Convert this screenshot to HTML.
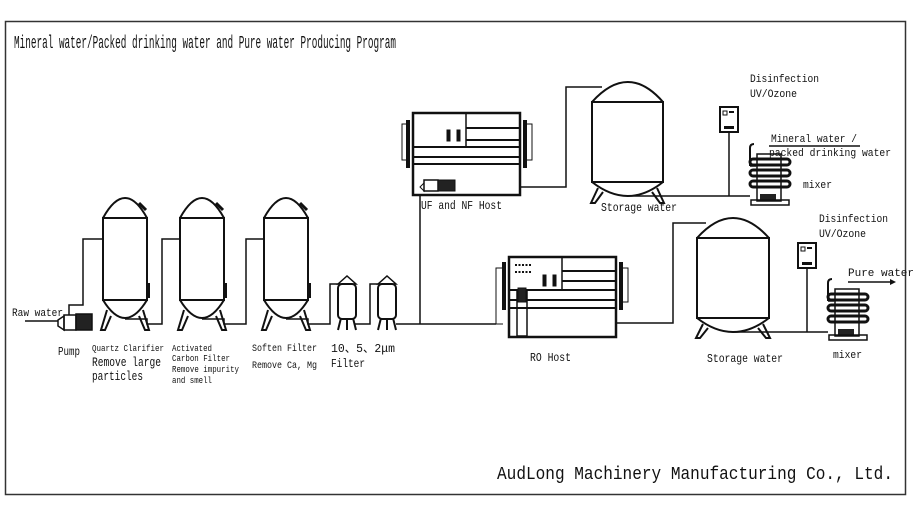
<!DOCTYPE html>
<html><head><meta charset="utf-8"><style>
html,body{margin:0;padding:0;background:#fff;}
svg{display:block;}
text{font-family:"Liberation Mono","Noto Sans CJK SC",monospace;fill:#111;}
</style></head><body>
<svg width="916" height="519" viewBox="0 0 916 519" xmlns="http://www.w3.org/2000/svg">
<defs>
<g id="tank">
 <!-- width 44, origin at cyl-top-left -->
 <path d="M0,0 Q22,-40 44,0" fill="none" stroke="#111" stroke-width="2"/>
 <rect x="0" y="0" width="44" height="82" fill="none" stroke="#111" stroke-width="2"/>
 <path d="M0,82 Q22,118 44,82" fill="none" stroke="#111" stroke-width="2"/>
 <path d="M4,92 L-2,112 L2,112 L8,98" fill="none" stroke="#111" stroke-width="2"/>
 <path d="M40,92 L46,112 L42,112 L36,98" fill="none" stroke="#111" stroke-width="2"/>
 <path d="M36,-15 L43,-8" stroke="#111" stroke-width="3"/>
 <rect x="44" y="65" width="3" height="15" fill="#111"/>
</g>
<g id="small">
 <path d="M0,8 L9,0 L18,8 Z" fill="none" stroke="#111" stroke-width="1.5"/>
 <rect x="0" y="8" width="18" height="35" rx="4" fill="none" stroke="#111" stroke-width="2"/>
 <path d="M3,42 L0,54 M15,42 L18,54 M9,44 L9,54" stroke="#111" stroke-width="2"/>
</g>
<g id="mixer">
 <path d="M2,22 L2,4 Q2,0 6,0" fill="none" stroke="#111" stroke-width="2"/>
 <path d="M2,22 L8,22" stroke="#111" stroke-width="1.5"/>
 <rect x="9" y="10" width="24" height="47" fill="none" stroke="#111" stroke-width="1.5"/>
 <rect x="2" y="15" width="40" height="6" rx="3" fill="none" stroke="#111" stroke-width="3"/>
 <rect x="2" y="26" width="40" height="6" rx="3" fill="none" stroke="#111" stroke-width="3"/>
 <rect x="2" y="37" width="40" height="6" rx="3" fill="none" stroke="#111" stroke-width="3"/>
 <rect x="12" y="50" width="16" height="6" fill="#222"/>
 <rect x="3" y="56" width="38" height="5" fill="none" stroke="#111" stroke-width="1.5"/>
</g>
<g id="disbox">
 <rect x="0" y="0" width="18" height="25" fill="none" stroke="#111" stroke-width="2"/>
 <rect x="3" y="4" width="4" height="4" fill="none" stroke="#111" stroke-width="1"/>
 <rect x="9" y="4" width="5" height="2" fill="#111"/>
 <rect x="4" y="19" width="10" height="3" fill="#111"/>
</g>
</defs>

<rect x="5.5" y="21.5" width="900" height="473" fill="none" stroke="#333" stroke-width="1.5"/>
<text x="14" y="48" font-size="18" textLength="382" lengthAdjust="spacingAndGlyphs">Mineral water/Packed drinking water and Pure water Producing Program</text>
<text x="497" y="479" font-size="18" textLength="396" lengthAdjust="spacingAndGlyphs">AudLong Machinery Manufacturing Co., Ltd.</text>

<!-- left pipes -->
<g fill="none" stroke="#111" stroke-width="1.5">
 <path d="M25,321 L58,321"/>
 <path d="M69,315 L69,305 L83,305 L83,239 L103,239"/>
 <path d="M125,319 L147,319 L147,324 L162,324 L162,239 L180,239"/>
 <path d="M202,319 L224,319 L224,324 L246,324 L246,239 L264,239"/>
 <path d="M286,319 L308,319 L308,324 L330,324 L330,284 L338,284"/>
 <path d="M355,324 L370,324 L370,284 L378,284"/>
 <path d="M396,324 L496,324"/>
 <path d="M420,324 L420,196"/>
 <path d="M520,187 L566,187 L566,87 L602,87"/>
 <path d="M616,323 L673,323 L673,223 L706,223"/>
 <path d="M628,196 L750,196"/>
 <path d="M729,132 L729,196"/>
 <path d="M733,332 L828,332"/>
 <path d="M807,268 L807,332"/>
 <path d="M848,282 L890,282"/>
 <path d="M769,146 L860,146"/>
</g>
<path d="M890,279 L896,282 L890,285 Z" fill="#111"/>

<!-- pump -->
<g stroke="#111" stroke-width="1.5" fill="none">
 <path d="M64,316 L58,320 L58,326 L64,330 Z"/>
 <rect x="64" y="315" width="12" height="15"/>
 <rect x="76" y="314" width="16" height="16" fill="#222"/>
</g>

<use href="#tank" x="103" y="218"/>
<use href="#tank" x="180" y="218"/>
<use href="#tank" x="264" y="218"/>
<use href="#small" x="338" y="276"/>
<use href="#small" x="378" y="276"/>

<!-- UF host -->
<g stroke="#111" fill="none">
 <rect x="413" y="113" width="107" height="82" stroke-width="2.5"/>
 <rect x="413" y="113" width="53" height="34" stroke-width="1.5"/>
 <path d="M466,128 L520,128 M466,140 L520,140 M413,147 L520,147 M413,157 L520,157 M413,164 L520,164" stroke-width="2"/>
 <path d="M407,124 L402,124 L402,160 L407,160 M526,124 L532,124 L532,160 L526,160" stroke-width="1"/>
 <path d="M408,120 L408,168 M525,120 L525,168" stroke-width="4"/>
 <rect x="447" y="130" width="3" height="11" fill="#111"/>
 <rect x="457" y="130" width="3" height="11" fill="#111"/>
 <path d="M424,183 L420,187 L424,191 Z" stroke-width="1"/>
 <rect x="424" y="180" width="14" height="11" stroke-width="1.5"/>
 <rect x="438" y="180" width="17" height="11" fill="#222"/>
</g>
<text x="421" y="209" font-size="12" textLength="81" lengthAdjust="spacingAndGlyphs">UF and NF Host</text>

<!-- RO host -->
<g stroke="#111" fill="none">
 <rect x="509" y="257" width="107" height="80" stroke-width="2.5"/>
 <rect x="509" y="257" width="53" height="33" stroke-width="1.5"/>
 <path d="M562,271 L616,271 M562,281 L616,281 M509,290 L616,290 M509,300 L616,300 M509,308 L616,308" stroke-width="2"/>
 <path d="M503,268 L496,268 L496,324 L503,324 M622,268 L628,268 L628,302 L622,302" stroke-width="1"/>
 <path d="M504,262 L504,310 M621,262 L621,310" stroke-width="4"/>
 <rect x="543" y="275" width="3" height="11" fill="#111"/>
 <rect x="553" y="275" width="3" height="11" fill="#111"/>
 <path d="M515,265 L531,265 M515,272 L531,272" stroke-width="2" stroke-dasharray="2 1.5"/>
 <rect x="517" y="290" width="10" height="46" stroke-width="1.5"/>
 <rect x="518" y="288" width="8" height="14" fill="#222"/>
</g>
<text x="530" y="361" font-size="12" textLength="41" lengthAdjust="spacingAndGlyphs">RO Host</text>

<use href="#tank" x="592" y="102" transform="translate(-592,-102) scale(1.614,1) translate(592,0)" style="display:none"/>
<!-- storage tank 1 -->
<g fill="none" stroke="#111" stroke-width="2">
 <path d="M592,102 Q628,62 663,102"/>
 <rect x="592" y="102" width="71" height="80"/>
 <path d="M592,182 Q628,210 663,182"/>
 <path d="M598,188 L591,203 L595,203 L603,192 M657,188 L664,203 L660,203 L652,192"/>
</g>
<text x="601" y="211" font-size="12" textLength="76" lengthAdjust="spacingAndGlyphs">Storage water</text>
<!-- storage tank 2 -->
<g fill="none" stroke="#111" stroke-width="2">
 <path d="M697,238 Q733,198 769,238"/>
 <rect x="697" y="238" width="72" height="80"/>
 <path d="M697,318 Q733,346 769,318"/>
 <path d="M703,324 L696,338 L700,338 L708,328 M763,324 L770,338 L766,338 L758,328"/>
</g>
<text x="707" y="362" font-size="12" textLength="76" lengthAdjust="spacingAndGlyphs">Storage water</text>

<use href="#disbox" x="720" y="107"/>
<use href="#disbox" x="798" y="243"/>
<use href="#mixer" x="748" y="144"/>
<use href="#mixer" x="826" y="279"/>

<g font-size="11">
<text x="750" y="82" textLength="69" lengthAdjust="spacingAndGlyphs">Disinfection</text>
<text x="750" y="97" textLength="47" lengthAdjust="spacingAndGlyphs">UV/Ozone</text>
<text x="771" y="142" textLength="86" lengthAdjust="spacingAndGlyphs">Mineral water /</text>
<text x="769" y="156" textLength="122" lengthAdjust="spacingAndGlyphs">packed drinking water</text>
<text x="803" y="188" textLength="29" lengthAdjust="spacingAndGlyphs">mixer</text>
<text x="819" y="222" textLength="69" lengthAdjust="spacingAndGlyphs">Disinfection</text>
<text x="819" y="237" textLength="47" lengthAdjust="spacingAndGlyphs">UV/Ozone</text>
<text x="848" y="276" textLength="66" lengthAdjust="spacingAndGlyphs">Pure water</text>
<text x="833" y="358" textLength="29" lengthAdjust="spacingAndGlyphs">mixer</text>
<text x="12" y="316" textLength="51" lengthAdjust="spacingAndGlyphs">Raw water</text>
</g>

<text x="58" y="355" font-size="12" textLength="22" lengthAdjust="spacingAndGlyphs">Pump</text>
<text x="92" y="351" font-size="9.5" textLength="72" lengthAdjust="spacingAndGlyphs">Quartz Clarifier</text>
<text x="92" y="366" font-size="12.5" textLength="69" lengthAdjust="spacingAndGlyphs">Remove large</text>
<text x="92" y="380" font-size="12.5" textLength="51" lengthAdjust="spacingAndGlyphs">particles</text>
<g font-size="9.5">
<text x="172" y="351" textLength="40" lengthAdjust="spacingAndGlyphs">Activated</text>
<text x="172" y="361" textLength="58" lengthAdjust="spacingAndGlyphs">Carbon Filter</text>
<text x="172" y="372" textLength="67" lengthAdjust="spacingAndGlyphs">Remove impurity</text>
<text x="172" y="383" textLength="40" lengthAdjust="spacingAndGlyphs">and smell</text>
</g>
<text x="252" y="351" font-size="10.5" textLength="65" lengthAdjust="spacingAndGlyphs">Soften Filter</text>
<text x="252" y="368" font-size="10.5" textLength="65" lengthAdjust="spacingAndGlyphs">Remove Ca, Mg</text>
<text x="331" y="352" font-size="12" textLength="64" lengthAdjust="spacingAndGlyphs">10、5、2μm</text>
<text x="331" y="367" font-size="12" textLength="34" lengthAdjust="spacingAndGlyphs">Filter</text>
</svg>
</body></html>
